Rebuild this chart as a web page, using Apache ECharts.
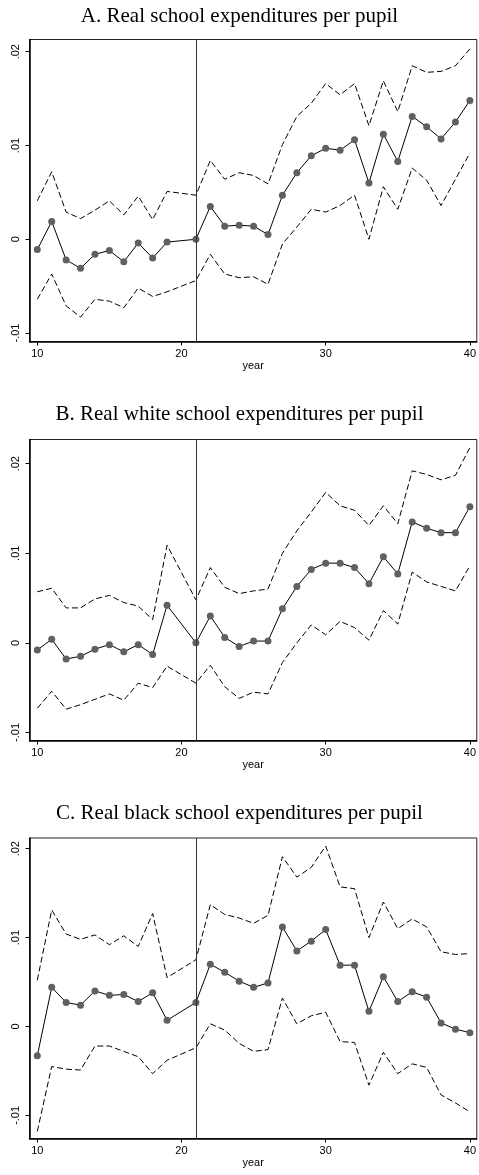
<!DOCTYPE html>
<html><head><meta charset="utf-8">
<script src="https://cdn.jsdelivr.net/npm/echarts@6/dist/echarts.min.js"></script>
<style>html,body{margin:0;padding:0;background:#fff}#c{width:479px;height:1175px}</style>
</head><body><div id="c"></div><script>
// Data
const years = [10,11,12,13,14,15,16,17,18,19,21,22,23,24,25,26,27,28,29,30,31,32,33,34,35,36,37,38,39,40];
const xTicks = [10,20,30,40];
const yTicks = [-0.01,0,0.01,0.02];
const titles = ['A. Real school expenditures per pupil','B. Real white school expenditures per pupil','C. Real black school expenditures per pupil'];

const aEst = [-0.0011,0.0019,-0.0022,-0.0031,-0.0016,-0.0012,-0.0024,-0.0004,-0.0020,-0.0003,0.0000,0.0035,0.0014,0.0015,0.0014,0.0005,0.0047,0.0071,0.0089,0.0097,0.0095,0.0106,0.0060,0.0112,0.0083,0.0131,0.0120,0.0107,0.0125,0.0148];
const aUp  = [0.0041,0.0072,0.0029,0.0022,0.0031,0.0041,0.0026,0.0046,0.0021,0.0051,0.0047,0.0084,0.0064,0.0071,0.0068,0.0059,0.0101,0.0131,0.0145,0.0166,0.0154,0.0166,0.0121,0.0169,0.0136,0.0185,0.0178,0.0179,0.0185,0.0203];
const aLo  = [-0.0064,-0.0037,-0.0071,-0.0083,-0.0064,-0.0066,-0.0073,-0.0052,-0.0061,-0.0056,-0.0044,-0.0016,-0.0037,-0.0041,-0.0040,-0.0048,-0.0005,0.0013,0.0032,0.0029,0.0036,0.0047,0.0000,0.0056,0.0032,0.0076,0.0063,0.0036,0.0064,0.0092];

const bEst = [-0.0008,0.0004,-0.0018,-0.0015,-0.0007,-0.0002,-0.0010,-0.0002,-0.0013,0.0042,0.0000,0.0030,0.0006,-0.0004,0.0002,0.0002,0.0038,0.0063,0.0082,0.0089,0.0089,0.0084,0.0066,0.0096,0.0077,0.0135,0.0128,0.0123,0.0123,0.0152];
const bUp  = [0.0057,0.0061,0.0039,0.0039,0.0049,0.0053,0.0045,0.0041,0.0026,0.0109,0.0048,0.0084,0.0062,0.0055,0.0058,0.0060,0.0100,0.0125,0.0146,0.0168,0.0153,0.0148,0.0131,0.0153,0.0133,0.0192,0.0188,0.0182,0.0187,0.0218];
const bLo  = [-0.0073,-0.0054,-0.0074,-0.0069,-0.0063,-0.0057,-0.0064,-0.0045,-0.0050,-0.0026,-0.0045,-0.0025,-0.0049,-0.0062,-0.0055,-0.0057,-0.0022,0.0000,0.0020,0.0009,0.0024,0.0017,0.0003,0.0036,0.0021,0.0079,0.0068,0.0063,0.0058,0.0086];

const cEst = [-0.0033,0.0044,0.0027,0.0024,0.0040,0.0035,0.0036,0.0028,0.0038,0.0007,0.0027,0.0070,0.0061,0.0051,0.0044,0.0049,0.0112,0.0085,0.0096,0.0109,0.0069,0.0069,0.0017,0.0056,0.0028,0.0039,0.0033,0.0004,-0.0003,-0.0007];
const cUp  = [0.0052,0.0131,0.0104,0.0098,0.0103,0.0092,0.0102,0.0090,0.0127,0.0055,0.0075,0.0137,0.0126,0.0122,0.0116,0.0125,0.0191,0.0168,0.0179,0.0203,0.0157,0.0155,0.0100,0.0140,0.0110,0.0121,0.0112,0.0084,0.0081,0.0082];
const cLo  = [-0.0118,-0.0045,-0.0048,-0.0049,-0.0022,-0.0022,-0.0028,-0.0034,-0.0053,-0.0038,-0.0024,0.0003,-0.0004,-0.0019,-0.0028,-0.0026,0.0032,0.0003,0.0012,0.0016,-0.0017,-0.0018,-0.0066,-0.0029,-0.0053,-0.0042,-0.0046,-0.0077,-0.0086,-0.0096];

const eventYear = 21;

// Layout
const panels = [
  {top: 39.5, height: 302, ymin: -0.0109, ymax: 0.0213, est: aEst, up: aUp, lo: aLo, titleTop: 1},
  {top: 439.5, height: 301, ymin: -0.0109, ymax: 0.0227, est: bEst, up: bUp, lo: bLo, titleTop: 399},
  {top: 838, height: 300.5, ymin: -0.0126, ymax: 0.0212, est: cEst, up: cUp, lo: cLo, titleTop: 798}
];

const zip = (xs, ys) => xs.map((x, i) => [x, ys[i]]);
const yFmt = v => v === 0 ? '0' : (v < 0 ? '-' : '') + String(Math.abs(v)).replace(/^0/, '');

const option = {
  animation: false,
  backgroundColor: '#fff',
  title: [], grid: [], xAxis: [], yAxis: [], series: []
};

panels.forEach((p, i) => {
  option.title.push({
    text: titles[i], left: 'center', top: p.titleTop,
    textStyle: {fontFamily: 'Liberation Serif', fontSize: 21, fontWeight: 'normal', color: '#000'}
  });
  option.grid.push({
    left: 29.5, top: p.top, width: 448.5, height: p.height,
    show: true, borderColor: '#222', borderWidth: 1, backgroundColor: 'transparent'
  });
  option.xAxis.push({
    type: 'value', gridIndex: i, min: 9.46, max: 40.48,
    name: 'year', nameLocation: 'middle', nameGap: 19,
    nameTextStyle: {fontFamily: 'Liberation Sans', fontSize: 11, color: '#000'},
    axisLine: {show: true, onZero: false, lineStyle: {color: '#000', width: 1.5}},
    axisTick: {show: true, length: 4, customValues: xTicks, lineStyle: {color: '#000', width: 1}},
    axisLabel: {customValues: xTicks, margin: 7, fontFamily: 'Liberation Sans', fontSize: 11, color: '#000'},
    splitLine: {show: false}
  });
  option.yAxis.push({
    type: 'value', gridIndex: i, min: p.ymin, max: p.ymax,
    axisLine: {show: true, onZero: false, lineStyle: {color: '#000', width: 1.5}},
    axisTick: {show: true, length: 4, customValues: yTicks, lineStyle: {color: '#000', width: 1}},
    axisLabel: {customValues: yTicks, rotate: 90, margin: 8, formatter: yFmt,
      fontFamily: 'Liberation Sans', fontSize: 11, color: '#000'},
    splitLine: {show: false}
  });
  const dashed = {color: '#000', width: 1, type: [6, 3]};
  option.series.push({
    type: 'line', xAxisIndex: i, yAxisIndex: i, data: zip(years, p.up),
    showSymbol: false, lineStyle: dashed, z: 2
  });
  option.series.push({
    type: 'line', xAxisIndex: i, yAxisIndex: i, data: zip(years, p.lo),
    showSymbol: false, lineStyle: dashed, z: 2
  });
  option.series.push({
    type: 'line', xAxisIndex: i, yAxisIndex: i, data: zip(years, p.est),
    symbol: 'circle', symbolSize: 7,
    itemStyle: {color: '#606060'},
    lineStyle: {color: '#000', width: 1}, z: 3,
    markLine: {
      silent: true, symbol: 'none', label: {show: false},
      lineStyle: {color: '#333', width: 1, type: 'solid'},
      data: [{xAxis: eventYear}]
    }
  });
});

const chart = echarts.init(document.getElementById('c'), null, {renderer: 'canvas'});
chart.setOption(option);
</script></body></html>
